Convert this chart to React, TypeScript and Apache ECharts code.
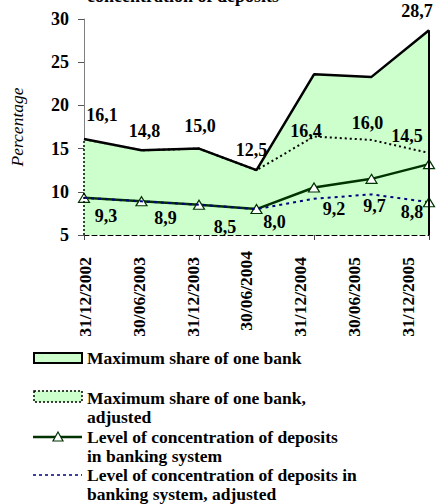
import React, { useEffect, useRef } from "react";
import * as echarts from "echarts";

const categories = ["31/12/2002", "30/06/2003", "31/12/2003", "30/06/2004", "31/12/2004", "30/06/2005", "31/12/2005"];
const maxShare = [16.1, 14.8, 15.0, 12.5, 23.6, 23.3, 28.7];
const maxShareAdj = [16.1, 14.8, 15.0, 12.5, 16.4, 16.0, 14.5];
const concentration = [9.3, 8.9, 8.5, 8.0, 10.5, 11.5, 13.2];
const concentrationAdj = [9.3, 8.9, 8.5, 8.0, 9.2, 9.7, 8.8];
const yMin = 5;
const yMax = 30;
const yStep = 5;

const seriesNames = [
  "Maximum share of one bank",
  "Maximum share of one bank,\nadjusted",
  "Level of concentration of deposits\nin banking system",
  "Level of concentration of deposits in\nbanking system, adjusted",
];
const titleText = "concentration of deposits";
const yAxisName = "Percentage";

// label layout (pixel offsets from the data point)
const maxLastOffset = [-12, -19];
const maxAdjOffsets = [[18, -24], [3, -19], [1, -23], [-5, -20], [-8, -6], [-4, -17], [-22, -17]];
const concAdjOffsets = [[22, 18], [24, 17], [26, 22], [18, 13], [20, 10], [3, 12], [-17, 10]];

const FONT = "'Liberation Serif', 'Times New Roman', serif";
const GREEN_FILL = "#CCFFCC";
const DARK_GREEN = "#003300";
const NAVY = "#000080";

const fmt = (v: number) => v.toFixed(1).replace(".", ",");

const labelStyle = {
  show: true,
  position: "inside",
  fontFamily: FONT,
  fontWeight: "bold",
  fontSize: 18,
  color: "#000",
};

export default function App() {
  const ref = useRef<HTMLDivElement>(null);
  useEffect(() => {
    if (!ref.current) return;
    const chart = echarts.init(ref.current, undefined, { renderer: "svg" });
    const last = categories.length - 1;

    const legendText = (txt: string, x: number, top: number) => ({
      type: "text",
      x,
      y: top,
      style: {
        text: txt,
        fontFamily: FONT,
        fontWeight: "bold",
        fontSize: 17.5,
        lineHeight: 19,
        fill: "#000",
        verticalAlign: "top",
        align: "left",
      },
    });

    chart.setOption({
      animation: false,
      backgroundColor: "#fff",
      grid: [
        { left: 78, right: 7, top: 19, bottom: 269, containLabel: false },
        { left: 85, right: 28.5, top: 19, bottom: 269, containLabel: false },
      ],
      xAxis: [
        {
          type: "category",
          gridIndex: 0,
          data: categories,
          boundaryGap: false,
          axisLine: { show: true, lineStyle: { color: "#000", width: 1, type: [5, 3] } },
          axisTick: { show: true, length: 5, lineStyle: { color: "#444" } },
          axisLabel: { show: false },
        },
        {
          type: "category",
          gridIndex: 1,
          data: categories.map((c, i) =>
            i === 3 ? { value: c, textStyle: { padding: [0, 0, 0, 0] } } : c
          ),
          boundaryGap: false,
          axisLine: { show: false },
          axisTick: { show: false },
          axisLabel: {
            show: true,
            rotate: 90,
            interval: 0,
            margin: 16,
            padding: [0, 6, 0, 0],
            fontFamily: FONT,
            fontWeight: "bold",
            fontSize: 17.5,
            color: "#000",
          },
        },
      ],
      yAxis: [
        {
          type: "value",
          gridIndex: 0,
          min: yMin,
          max: yMax,
          interval: yStep,
          name: yAxisName,
          nameLocation: "middle",
          nameGap: 58,
          nameRotate: 90,
          nameTextStyle: {
            fontFamily: FONT,
            fontStyle: "italic",
            fontSize: 17.5,
            color: "#000",
          },
          axisLine: { show: true, lineStyle: { color: "#808080", width: 1 } },
          axisTick: { show: true, length: 6, lineStyle: { color: "#555" } },
          splitLine: { show: false },
          axisLabel: {
            margin: 15,
            fontFamily: FONT,
            fontWeight: "bold",
            fontSize: 18,
            color: "#000",
          },
        },
        {
          type: "value",
          gridIndex: 1,
          min: yMin,
          max: yMax,
          show: false,
        },
      ],
      series: [
        {
          name: seriesNames[0],
          type: "line",
          xAxisIndex: 0,
          yAxisIndex: 0,
          symbol: "circle",
          symbolSize: 0,
          lineStyle: { color: "#000", width: 2.5 },
          itemStyle: { color: "#000" },
          areaStyle: { color: GREEN_FILL, opacity: 1, origin: "start" },
          data: maxShare.map((v, i) =>
            i === last
              ? {
                  value: v,
                  label: { ...labelStyle, offset: maxLastOffset, formatter: (p: any) => fmt(p.value) },
                }
              : { value: v, label: { show: false } }
          ),
          markLine: {
            silent: true,
            symbol: ["none", "none"],
            label: { show: false },
            lineStyle: { color: "#000", width: 2, type: "solid" },
            data: [[{ coord: [last, yMin] }, { coord: [last, maxShare[last]] }]],
          },
          z: 1,
        },
        {
          name: seriesNames[1],
          type: "line",
          xAxisIndex: 0,
          yAxisIndex: 0,
          symbol: "circle",
          symbolSize: 0,
          lineStyle: { color: "#000", width: 2, type: [2, 3] },
          itemStyle: { color: "#000" },
          data: maxShareAdj.map((v, i) => ({
            value: v,
            label: { ...labelStyle, offset: maxAdjOffsets[i], formatter: (p: any) => fmt(p.value) },
          })),
          markLine: {
            silent: true,
            symbol: ["none", "none"],
            label: { show: false },
            lineStyle: { color: "#000", width: 1.5, type: [2, 2] },
            data: [
              [{ coord: [0, yMin] }, { coord: [0, maxShareAdj[0]] }],
              [{ coord: [last, yMin] }, { coord: [last, maxShareAdj[last]] }],
            ],
          },
          z: 2,
        },
        {
          name: seriesNames[2],
          type: "line",
          xAxisIndex: 0,
          yAxisIndex: 0,
          symbol: "triangle",
          symbolSize: [11, 9],
          lineStyle: { color: DARK_GREEN, width: 2.5 },
          itemStyle: { color: "#fff", borderColor: DARK_GREEN, borderWidth: 1.2 },
          data: concentration,
          z: 3,
        },
        {
          name: seriesNames[3],
          type: "line",
          xAxisIndex: 0,
          yAxisIndex: 0,
          symbol: "circle",
          symbolSize: 0,
          lineStyle: { color: NAVY, width: 2, type: [3, 4] },
          itemStyle: { color: NAVY },
          data: concentrationAdj.map((v, i) => ({
            value: v,
            ...(i === last
              ? {
                  symbol: "triangle",
                  symbolSize: [11, 9],
                  itemStyle: { color: "#fff", borderColor: DARK_GREEN, borderWidth: 1.2 },
                }
              : {}),
            label: { ...labelStyle, offset: concAdjOffsets[i], formatter: (p: any) => fmt(p.value) },
          })),
          z: 4,
        },
      ],
      graphic: [
        {
          type: "text",
          x: 183,
          y: -4,
          style: {
            text: titleText,
            fontFamily: FONT,
            fontWeight: "bold",
            fontSize: 18,
            fill: "#000",
            align: "center",
            verticalAlign: "middle",
          },
        },
        // legend item 1
        {
          type: "rect",
          shape: { x: 34, y: 353, width: 48, height: 10 },
          style: { fill: GREEN_FILL, stroke: "#000", lineWidth: 2 },
        },
        legendText(seriesNames[0], 87, 348.5),
        // legend item 2
        {
          type: "rect",
          shape: { x: 34, y: 391, width: 48, height: 11 },
          style: { fill: GREEN_FILL, stroke: "#000", lineWidth: 1.5, lineDash: [2, 2] },
        },
        legendText(seriesNames[1], 87, 388.5),
        // legend item 3
        {
          type: "line",
          shape: { x1: 33, y1: 437, x2: 82, y2: 437 },
          style: { stroke: DARK_GREEN, lineWidth: 2.5 },
        },
        {
          type: "polygon",
          shape: { points: [[58, 432], [63, 441], [53, 441]] },
          style: { fill: "#fff", stroke: DARK_GREEN, lineWidth: 1.2 },
        },
        legendText(seriesNames[2], 87, 427.5),
        // legend item 4
        {
          type: "line",
          shape: { x1: 33, y1: 475, x2: 82, y2: 475 },
          style: { stroke: NAVY, lineWidth: 1.5, lineDash: [3, 3] },
        },
        legendText(seriesNames[3], 87, 465.5),
      ],
    });
    return () => chart.dispose();
  }, []);
  return (
    <div
      ref={ref}
      style={{ position: "absolute", left: 0, top: 0, width: 436, height: 504 }}
    />
  );
}
